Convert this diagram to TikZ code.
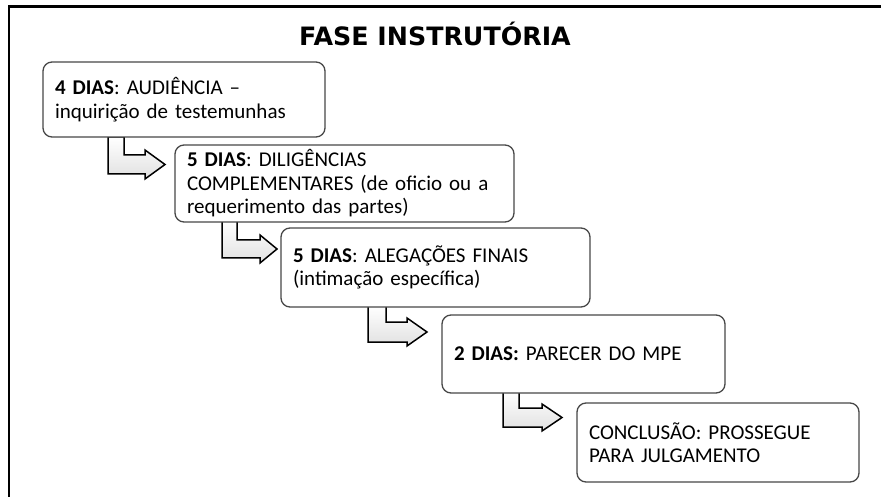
\documentclass[tikz,border=0pt]{standalone}
\usepackage{fontspec}
\setmainfont{Carlito}
\newfontfamily\titlefont{DejaVu Sans}
\frenchspacing
\begin{document}
\begin{tikzpicture}[x=1pt,y=-1pt,
  stepbox/.style={draw=black!72, line width=1.3pt, fill=white, rounded corners=9pt,
    inner xsep=12pt, inner ysep=2pt, align=left,
    font=\fontsize{21}{23.5}\selectfont\frenchspacing},
  bentarrow/.style={draw=black, line width=1.5pt, line join=miter, top color=white, bottom color=black!12}
]
\useasboundingbox (0,0) rectangle (881,497);
% frame
\draw[line width=2.6pt] (9,497) -- (9,6.5) -- (881,6.5);
% title
\node[anchor=base, font=\titlefont\bfseries\fontsize{25.3}{28}\selectfont, inner sep=0] (title) at (435,46) {FASE INSTRUTÓRIA};
% arrows (drawn first, boxes on top)
\draw[bentarrow] (108,137) -- (124,137) -- (124,155) -- (145,155) -- (145,150) -- (165,164.5) -- (145,179) -- (145,174) -- (108,174) -- cycle;
\draw[bentarrow] (222,221) -- (237,221) -- (237,240) -- (260,240) -- (260,235) -- (277,249) -- (260,263) -- (260,258) -- (222,258) -- cycle;
\draw[bentarrow] (368,306) -- (386,306) -- (386,322) -- (407,322) -- (407,318) -- (427,332) -- (407,346) -- (407,342) -- (368,342) -- cycle;
\draw[bentarrow] (503,392) -- (519,392) -- (519,408) -- (542,408) -- (542,404) -- (562,417.5) -- (542,431) -- (542,427) -- (503,427) -- cycle;
% boxes
\node[stepbox, minimum width=282pt, minimum height=75pt, text width=258pt] (b1) at (184,99.5)
  {\textbf{4 DIAS}: AUDIÊNCIA –\\inquirição de testemunhas};
\node[stepbox, minimum width=339pt, minimum height=77pt, text width=315pt] (b2) at (344.5,183.5)
  {\textbf{5 DIAS}: DILIGÊNCIAS\\COMPLEMENTARES (de oficio ou a\\requerimento das partes)};
\node[stepbox, minimum width=309pt, minimum height=79pt, text width=285pt] (b3) at (435.5,267.5)
  {\textbf{5 DIAS}: ALEGAÇÕES FINAIS\\(intimação específica)};
\node[stepbox, minimum width=283pt, minimum height=78pt, text width=259pt] (b4) at (583.5,354)
  {\textbf{2 DIAS:} PARECER DO MPE};
\node[stepbox, minimum width=282pt, minimum height=79pt, text width=258pt] (b5) at (718,442.5)
  {CONCLUSÃO: PROSSEGUE\\PARA JULGAMENTO};
\end{tikzpicture}
\end{document}
